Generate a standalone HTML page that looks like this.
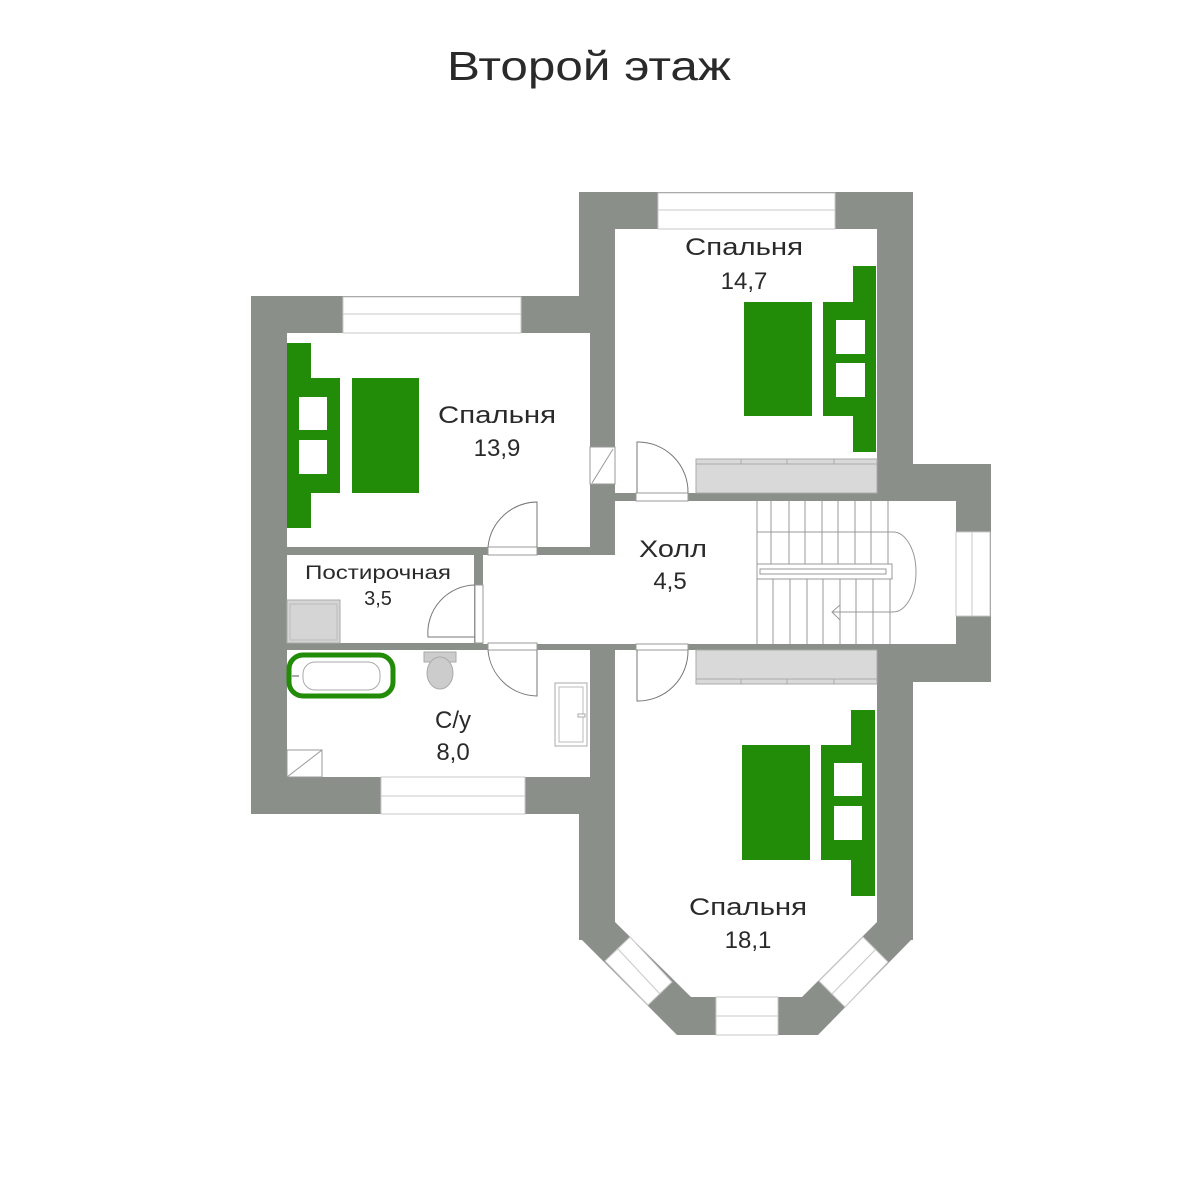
<!DOCTYPE html>
<html><head><meta charset="utf-8"><style>html,body{margin:0;padding:0;background:#fff}svg{display:block}</style></head>
<body>
<svg width="1198" height="1200" viewBox="0 0 1198 1200" xmlns="http://www.w3.org/2000/svg" font-family="Liberation Sans, DejaVu Sans, sans-serif">
<rect width="1198" height="1200" fill="#fff"/>
<text x="589" y="80" font-size="41" fill="#2a2a2a" text-anchor="middle" textLength="284" lengthAdjust="spacingAndGlyphs">Второй этаж</text>
<!-- walls -->
<g fill="#8a8f8a">
<rect x="251" y="296" width="339" height="518"/>
<rect x="579" y="192" width="334" height="748"/>
<rect x="913" y="464" width="78" height="218"/>
<polygon points="580,938 677,1035 818,1035 913,938"/>
</g>
<!-- rooms -->
<g fill="#fff">
<rect x="287" y="333" width="303" height="214"/>
<rect x="615" y="229" width="262" height="264"/>
<rect x="615" y="501" width="341" height="143"/>
<rect x="483" y="555" width="140" height="89"/>
<rect x="287" y="555" width="187" height="88"/>
<rect x="287" y="650" width="303" height="127"/>
<polygon points="615,650 877,650 877,922 802,997 691,997 615,922"/>
</g>
<!-- windows -->
<g fill="#fff" stroke="#c8c8c8" stroke-width="1">
<rect x="658" y="193" width="177" height="36"/><line x1="658" y1="210" x2="835" y2="210"/>
<rect x="343" y="297" width="178" height="36"/><line x1="343" y1="314" x2="521" y2="314"/>
<rect x="381" y="777" width="144" height="37"/><line x1="381" y1="796" x2="525" y2="796"/>
<rect x="956" y="532" width="34" height="84"/><line x1="972" y1="532" x2="972" y2="616"/>
<rect x="716" y="997" width="62" height="38"/><line x1="716" y1="1016" x2="778" y2="1016"/>
<polygon points="605,961 630,937 672,982 648,1005"/><line x1="618" y1="949" x2="660" y2="994"/>
<polygon points="863,937 888,962 845,1007 819,981"/><line x1="876" y1="949" x2="832" y2="994"/>
</g>
<!-- door openings -->
<g fill="#fff" stroke="#999" stroke-width="1">
<rect x="590" y="447" width="25" height="37"/><line x1="592" y1="483" x2="613" y2="449"/>
<rect x="636" y="493" width="52" height="8"/>
<rect x="488" y="547" width="49" height="8"/>
<rect x="475" y="585" width="8" height="58"/>
<rect x="488" y="643" width="49" height="7"/>
<rect x="636" y="644" width="52" height="6"/>
</g>
<g fill="none" stroke="#777" stroke-width="1">
<path d="M637,493 V442 A50,50 0 0 1 688,493"/>
<path d="M488,547 A50,50 0 0 1 537,502 V547"/>
<path d="M475,585 A48,48 0 0 0 428,637 H475"/>
<path d="M488,650 A50,50 0 0 0 537,696 V650"/>
<path d="M637,650 V701 A50,50 0 0 0 688,650"/>
</g>
<!-- wardrobes -->
<g fill="#d9d9d9" stroke="#aaa" stroke-width="1">
<rect x="696" y="459" width="181" height="34"/>
<rect x="696" y="650" width="181" height="34"/>
</g>
<g stroke="#aaa" stroke-width="1">
<line x1="696" y1="464" x2="877" y2="464"/><line x1="741" y1="459" x2="741" y2="464"/><line x1="787" y1="459" x2="787" y2="464"/><line x1="834" y1="459" x2="834" y2="464"/>
<line x1="696" y1="679" x2="877" y2="679"/><line x1="741" y1="679" x2="741" y2="684"/><line x1="787" y1="679" x2="787" y2="684"/><line x1="834" y1="679" x2="834" y2="684"/>
</g>
<!-- stairs -->
<g stroke="#999" stroke-width="1" fill="none">
<line x1="757" y1="501" x2="757" y2="644"/>
<line x1="757" y1="532" x2="888" y2="532"/>
<line x1="771" y1="501" x2="771" y2="564"/><line x1="789" y1="501" x2="789" y2="564"/><line x1="805" y1="501" x2="805" y2="564"/><line x1="822" y1="501" x2="822" y2="564"/><line x1="838" y1="501" x2="838" y2="564"/><line x1="855" y1="501" x2="855" y2="564"/><line x1="871" y1="501" x2="871" y2="564"/><line x1="888" y1="501" x2="888" y2="564"/>
<line x1="773" y1="579" x2="773" y2="644"/><line x1="790" y1="579" x2="790" y2="644"/><line x1="807" y1="579" x2="807" y2="644"/><line x1="823" y1="579" x2="823" y2="644"/><line x1="840" y1="579" x2="840" y2="644"/><line x1="856" y1="579" x2="856" y2="644"/><line x1="873" y1="579" x2="873" y2="644"/><line x1="890" y1="579" x2="890" y2="644"/>
<rect x="757" y="564" width="135" height="15" fill="#fff"/>
<rect x="760" y="569" width="126" height="5"/>
<path d="M888,532 H893 A23,40 0 0 1 893,612 H832"/>
<path d="M840,605 L832,612 L840,620"/>
</g>
<!-- washer -->
<rect x="287" y="600" width="53" height="43" fill="#d5d5d5" stroke="#aaa"/>
<rect x="290" y="604" width="47" height="36" fill="none" stroke="#bbb"/>
<!-- bath -->
<rect x="289" y="655" width="104" height="41" rx="14" fill="#fff" stroke="#228b08" stroke-width="5"/>
<rect x="303" y="662" width="77" height="28" rx="12" fill="none" stroke="#aaa"/>
<rect x="291" y="675" width="8" height="2" fill="#aaa"/>
<!-- toilet -->
<rect x="424" y="652" width="32" height="10" fill="#ccc" stroke="#aaa"/>
<ellipse cx="440" cy="673" rx="13" ry="16" fill="#ccc" stroke="#aaa"/>
<!-- shower tray -->
<rect x="555" y="683" width="32" height="63" fill="#fff" stroke="#aaa"/>
<rect x="559" y="687" width="24" height="55" fill="none" stroke="#bbb"/>
<rect x="578" y="714" width="7" height="3" fill="#fff" stroke="#aaa"/>
<rect x="287" y="750" width="35" height="27" fill="#fff" stroke="#999"/><line x1="287" y1="777" x2="322" y2="750" stroke="#999"/>
<!-- beds -->
<g fill="#228b08">
<rect x="287" y="343" width="24" height="185"/>
<rect x="287" y="378" width="53" height="115"/>
<rect x="352" y="378" width="67" height="115"/>
<rect x="853" y="266" width="23" height="186"/>
<rect x="823" y="302" width="53" height="114"/>
<rect x="744" y="302" width="68" height="114"/>
<rect x="851" y="710" width="24" height="186"/>
<rect x="821" y="745" width="54" height="115"/>
<rect x="742" y="745" width="68" height="115"/>
</g>
<g fill="#fff">
<rect x="299" y="397" width="28" height="33"/><rect x="299" y="440" width="28" height="34"/>
<rect x="836" y="320" width="29" height="34"/><rect x="836" y="363" width="29" height="34"/>
<rect x="834" y="763" width="28" height="33"/><rect x="834" y="806" width="28" height="34"/>
</g>
<!-- labels -->
<g fill="#2a2a2a" font-size="24" text-anchor="middle">
<text x="744" y="255" textLength="118" lengthAdjust="spacingAndGlyphs">Спальня</text>
<text x="744" y="289">14,7</text>
<text x="497" y="423" textLength="118" lengthAdjust="spacingAndGlyphs">Спальня</text>
<text x="497" y="456">13,9</text>
<text x="673" y="557" textLength="68" lengthAdjust="spacingAndGlyphs">Холл</text>
<text x="670" y="589">4,5</text>
<text x="378" y="579" font-size="19" textLength="146" lengthAdjust="spacingAndGlyphs">Постирочная</text>
<text x="378" y="605" font-size="20">3,5</text>
<text x="453" y="728">С/у</text>
<text x="453" y="760">8,0</text>
<text x="748" y="915" textLength="118" lengthAdjust="spacingAndGlyphs">Спальня</text>
<text x="748" y="948">18,1</text>
</g>
</svg>
</body></html>
